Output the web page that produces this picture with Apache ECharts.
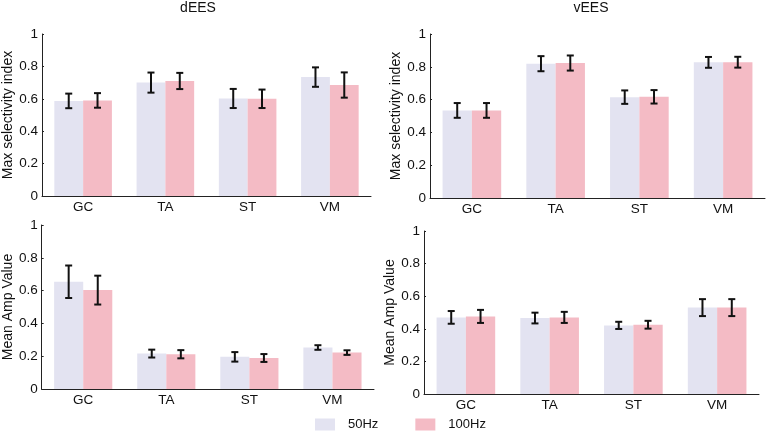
<!DOCTYPE html>
<html>
<head>
<meta charset="utf-8">
<script src="https://cdn.jsdelivr.net/npm/echarts@6/dist/echarts.min.js"></script>
<style>
html,body{margin:0;padding:0;background:#fff;}
#c{width:768px;height:435px;}
</style>
</head>
<body>
<div id="c"></div>
<script>
const categories = ['GC', 'TA', 'ST', 'VM'];
const yTicks = [0, 0.2, 0.4, 0.6, 0.8, 1];
const seriesNames = ['50Hz', '100Hz'];

// dEES - Max selectivity index
const dSel50 = [0.587, 0.700, 0.602, 0.734];
const dSel50Err = [0.045, 0.062, 0.059, 0.060];
const dSel100 = [0.590, 0.710, 0.600, 0.685];
const dSel100Err = [0.045, 0.050, 0.057, 0.078];

// vEES - Max selectivity index
const vSel50 = [0.534, 0.819, 0.615, 0.827];
const vSel50Err = [0.045, 0.046, 0.041, 0.033];
const vSel100 = [0.534, 0.823, 0.617, 0.828];
const vSel100Err = [0.045, 0.046, 0.041, 0.033];

// dEES - Mean Amp Value
const dAmp50 = [0.654, 0.216, 0.196, 0.253];
const dAmp50Err = [0.099, 0.024, 0.029, 0.014];
const dAmp100 = [0.603, 0.212, 0.189, 0.222];
const dAmp100Err = [0.088, 0.025, 0.024, 0.014];

// vEES - Mean Amp Value
const vAmp50 = [0.470, 0.466, 0.421, 0.530];
const vAmp50Err = [0.039, 0.033, 0.022, 0.052];
const vAmp100 = [0.476, 0.470, 0.425, 0.530];
const vAmp100Err = [0.040, 0.034, 0.024, 0.052];

const C50 = '#e3e3f1';
const C100 = '#f4bbc5';
const FONT = 'Liberation Sans, Arial, sans-serif';
const AXIS = '#222';

const panels = [
  {grid:{left:42, right:397, top:34, bottom:239}, name:'Max selectivity index', gap:22, a:dSel50, ae:dSel50Err, b:dSel100, be:dSel100Err},
  {grid:{left:430, right:3, top:34, bottom:237}, name:'Max selectivity index', gap:22, a:vSel50, ae:vSel50Err, b:vSel100, be:vSel100Err},
  {grid:{left:39, right:394, top:225, bottom:46}, name:'Mean Amp Value', gap:22, a:dAmp50, ae:dAmp50Err, b:dAmp100, be:dAmp100Err},
  {grid:{left:424, right:9, top:231, bottom:41}, name:'Mean Amp Value', gap:22, a:vAmp50, ae:vAmp50Err, b:vAmp100, be:vAmp100Err}
];

function errRender(sign) {
  return function (params, api) {
    const i = api.value(0), v = api.value(1), e = api.value(2);
    const band = api.size([1, 0])[0];
    const x = api.coord([i, v])[0] + sign * band * 0.175;
    const yt = api.coord([i, v + e])[1];
    const yb = api.coord([i, v - e])[1];
    const cap = 3.5;
    const st = {stroke: '#111', lineWidth: 2};
    return {type: 'group', children: [
      {type: 'line', shape: {x1: x, y1: yt, x2: x, y2: yb}, style: st},
      {type: 'line', shape: {x1: x - cap, y1: yt, x2: x + cap, y2: yt}, style: st},
      {type: 'line', shape: {x1: x - cap, y1: yb, x2: x + cap, y2: yb}, style: st}
    ]};
  };
}

const grids = [], xAxes = [], yAxes = [], series = [];
panels.forEach((p, k) => {
  grids.push(p.grid);
  xAxes.push({
    type: 'category', gridIndex: k, data: categories,
    axisLine: {lineStyle: {color: AXIS, width: 1}},
    axisTick: {show: false},
    axisLabel: {color: '#111', fontSize: 13.5, fontFamily: FONT, margin: 4}
  });
  yAxes.push({
    type: 'value', gridIndex: k, min: yTicks[0], max: yTicks[yTicks.length - 1], interval: 0.2,
    name: p.name, nameLocation: 'middle', nameGap: p.gap, nameRotate: 90,
    nameTextStyle: {color: '#111', fontSize: 14, fontFamily: FONT},
    axisLine: {show: true, lineStyle: {color: AXIS, width: 1}},
    axisTick: {show: true, inside: true, length: 2, lineStyle: {color: AXIS}},
    axisLabel: {color: '#111', fontSize: 13.5, fontFamily: FONT, margin: 4},
    splitLine: {show: false}
  });
  series.push({
    name: seriesNames[0], type: 'bar', xAxisIndex: k, yAxisIndex: k, data: p.a,
    itemStyle: {color: C50}, barGap: '0%', barCategoryGap: '30%', silent: true
  });
  series.push({
    name: seriesNames[1], type: 'bar', xAxisIndex: k, yAxisIndex: k, data: p.b,
    itemStyle: {color: C100}, barGap: '0%', barCategoryGap: '30%', silent: true
  });
  series.push({
    type: 'custom', xAxisIndex: k, yAxisIndex: k, renderItem: errRender(-1),
    encode: {x: 0, y: 1}, z: 10, silent: true,
    data: p.a.map((v, i) => [i, v, p.ae[i]])
  });
  series.push({
    type: 'custom', xAxisIndex: k, yAxisIndex: k, renderItem: errRender(1),
    encode: {x: 0, y: 1}, z: 10, silent: true,
    data: p.b.map((v, i) => [i, v, p.be[i]])
  });
});

const chart = echarts.init(document.getElementById('c'), null, {renderer: 'canvas'});
chart.setOption({
  animation: false,
  backgroundColor: '#fff',
  title: [
    {text: 'dEES', left: 193, top: -4, textAlign: 'center', textStyle: {fontSize: 14, fontWeight: 'normal', color: '#111', fontFamily: FONT}},
    {text: 'vEES', left: 586, top: -4, textAlign: 'center', textStyle: {fontSize: 14, fontWeight: 'normal', color: '#111', fontFamily: FONT}}
  ],
  legend: {
    data: seriesNames, left: 310, top: 413, itemWidth: 20, itemHeight: 12, itemGap: 37,
    icon: 'rect', selectedMode: false,
    textStyle: {fontSize: 13, color: '#111', fontFamily: FONT, padding: [0, 0, 0, 8]}
  },
  grid: grids, xAxis: xAxes, yAxis: yAxes, series: series
});
</script>
</body>
</html>
